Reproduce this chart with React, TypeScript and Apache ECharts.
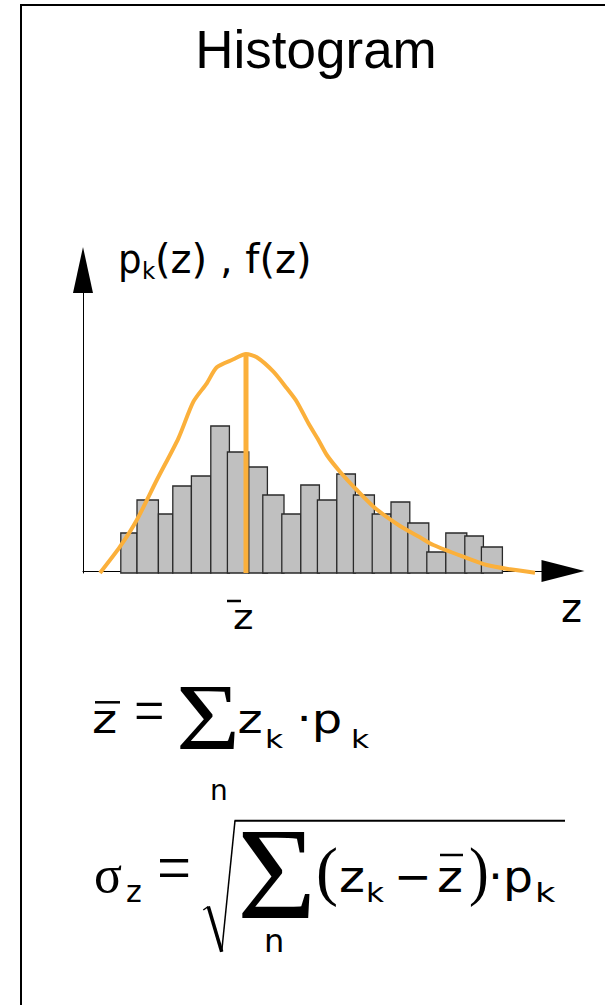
import React, { useEffect, useRef } from 'react';
import * as echarts from 'echarts';

// Histogram bins p_k: left edge, right edge (z units) and height of each bar
const binStart = [1.89, 2.7, 3.77, 4.49, 5.42, 6.39, 7.22, 8.29, 8.99, 9.94, 10.89, 11.72, 12.69, 13.52, 14.46, 15.4, 16.24, 17.19, 18.14, 19.09, 19.92];
const binEnd = [2.7, 3.77, 4.49, 5.42, 6.39, 7.32, 8.29, 9.22, 10.05, 10.89, 11.82, 12.69, 13.62, 14.57, 15.4, 16.34, 17.29, 18.14, 19.19, 20.02, 20.97];
const binHeight = [4.0, 7.3, 5.9, 8.7, 9.7, 14.7, 12.1, 10.6, 7.8, 5.9, 8.8, 7.3, 9.9, 7.8, 5.9, 7.1, 5.0, 2.1, 4.0, 3.7, 2.6];

// Density curve f(z)
const curveZ = [0.85, 1.85, 2.69, 3.69, 4.77, 5.52, 6.19, 6.69, 7.52, 8.15, 8.69, 9.52, 10.19, 10.69, 11.27, 11.77, 12.19, 12.85, 13.69, 14.6, 15.85, 16.85, 17.52, 19.02, 20.19, 21.35, 22.6];
const curveF = [0, 2.63, 5.3, 9.3, 13.47, 17.13, 18.97, 20.57, 21.37, 21.9, 21.57, 20.13, 18.47, 17.13, 14.97, 13.3, 11.8, 10.13, 8.3, 6.5, 4.7, 3.57, 2.8, 1.63, 0.8, 0.37, 0.03];

// Mean value z̄ and the density there
const zMean = 8.15;
const fAtMean = 21.9;

// Axis extents
const zMax = 24;
const fMax = 30.3;

const ORANGE = '#FBB03B';
const SANS = 'DejaVu Sans';
const SERIF = 'Liberation Serif';
const TITLE_FONT = 'Liberation Sans';

// distance from the alphabetic baseline to the "central" baseline, per em
const CENTRAL: Record<string, number> = {
  [SANS]: 0.346,
  [SERIF]: 0.3375,
  [TITLE_FONT]: 0.3465,
};

type TxtOpts = { sx?: number; sy?: number; align?: string };

// Text placed by its left edge (or centre) and its baseline
function txt(text: string, x: number, base: number, size: number, family: string, opts: TxtOpts = {}) {
  return {
    type: 'text',
    x,
    y: base - CENTRAL[family] * size * (opts.sy ?? 1),
    scaleX: opts.sx ?? 1,
    scaleY: opts.sy ?? 1,
    silent: true,
    style: {
      text,
      fontSize: size,
      fontFamily: family,
      fill: '#000',
      align: opts.align ?? 'left',
      verticalAlign: 'middle',
    },
  };
}

function seg(x1: number, y1: number, x2: number, y2: number, w: number) {
  return {
    type: 'line',
    silent: true,
    shape: { x1, y1, x2, y2 },
    style: { stroke: '#000', lineWidth: w, lineCap: 'butt' },
  };
}

export default function App() {
  const ref = useRef<HTMLDivElement>(null);

  useEffect(() => {
    if (!ref.current) return;
    const chart = echarts.init(ref.current, undefined, { renderer: 'svg' });

    const bins = binStart.map((s, i) => [s, binEnd[i], binHeight[i]]);
    const curve = curveZ.map((z, i) => [z, curveF[i]]);

    const renderBin = (_params: any, api: any) => {
      const p0 = api.coord([api.value(0), 0]);
      const p1 = api.coord([api.value(1), api.value(2)]);
      return {
        type: 'rect',
        shape: { x: p0[0], y: p1[1], width: p1[0] - p0[0], height: p0[1] - p1[1] },
        style: { fill: '#C0C0C0', stroke: '#2a2a2a', lineWidth: 1.3 },
      };
    };

    const graphic: any[] = [
      // frame
      {
        type: 'rect',
        silent: true,
        shape: { x: 21, y: 5, width: 800, height: 1200 },
        style: { fill: 'none', stroke: '#000', lineWidth: 2 },
      },
      txt('Histogram', 316, 68, 53, TITLE_FONT, { align: 'center' }),

      // axis labels
      txt('p', 118, 273, 40, SANS, { sx: 0.93 }),
      txt('k', 142, 278.5, 23, SANS),
      txt('(z) , f(z)', 155, 273, 40, SANS),
      seg(227, 601, 241, 601, 2.5),
      txt('z', 233, 629, 34, SANS, { sx: 1.15 }),
      txt('z', 561, 621.7, 40, SANS),

      // mean:  z̄ = Σ z_k · p_k
      seg(95, 702.3, 120, 702.3, 2.5),
      txt('z', 92, 733, 40, SANS, { sx: 1.2 }),
      txt('=', 134, 733, 50, SERIF, { sx: 1.08, sy: 1.3 }),
      txt('Σ', 176, 749.3, 95, SERIF, { sx: 1.16 }),
      txt('n', 210, 800, 28, SANS),
      txt('z', 237.5, 733, 40, SANS, { sx: 1.2 }),
      txt('k', 265, 748.3, 25, SANS, { sx: 1.25 }),
      txt('·p', 296.4, 733, 40, SANS, { sx: 1.2 }),
      txt('k', 351, 748.3, 25, SANS, { sx: 1.25 }),

      // standard deviation:  σ_z = √( Σ (z_k − z̄) · p_k )
      txt('σ', 94, 891.7, 52, SERIF),
      txt('z', 126, 901.7, 30, SANS),
      txt('=', 157, 891.7, 56, SERIF, { sx: 1.08, sy: 1.3 }),
      seg(203.3, 910, 208.3, 906.5, 1.5),
      seg(208.3, 906.5, 221.7, 951.7, 3.5),
      seg(221.7, 951.7, 235, 820.7, 1.5),
      seg(234.5, 820.7, 565, 820.7, 2),
      txt('Σ', 237, 918.3, 131, SERIF, { sx: 1.04 }),
      txt('n', 264, 951.7, 32, SANS),
      txt('(', 316, 893, 66, SERIF),
      txt('z', 339, 891.7, 45, SANS, { sx: 1.1 }),
      txt('k', 366, 901.7, 27, SANS, { sx: 1.15 }),
      txt('−', 394, 891.7, 45, SANS),
      seg(440, 855, 463, 855, 2.5),
      txt('z', 437, 891.7, 45, SANS, { sx: 1.1 }),
      txt(')', 469, 893, 66, SERIF, { sx: 0.9 }),
      txt('·p', 488, 891.7, 45, SANS, { sx: 1.05 }),
      txt('k', 535, 901.7, 27, SANS, { sx: 1.3 }),
    ];

    chart.setOption({
      animation: false,
      backgroundColor: '#fff',
      grid: { left: 83, top: 270, width: 480, height: 303 },
      xAxis: {
        type: 'value',
        min: 0,
        max: zMax,
        offset: -2,
        axisLine: {
          show: true,
          onZero: false,
          lineStyle: { color: '#000', width: 1 },
          symbol: ['none', 'triangle'],
          symbolSize: [22, 43],
        },
        axisTick: { show: false },
        axisLabel: { show: false },
        splitLine: { show: false },
      },
      yAxis: {
        type: 'value',
        min: 0,
        max: fMax,
        axisLine: {
          show: true,
          onZero: false,
          lineStyle: { color: '#000', width: 1 },
          symbol: ['none', 'triangle'],
          symbolSize: [20, 46],
        },
        axisTick: { show: false },
        axisLabel: { show: false },
        splitLine: { show: false },
      },
      series: [
        {
          type: 'custom',
          data: bins,
          encode: { x: [0, 1], y: 2 },
          renderItem: renderBin,
          z: 2,
        },
        {
          type: 'line',
          data: curve,
          smooth: 0.25,
          symbol: 'none',
          lineStyle: { color: ORANGE, width: 4 },
          z: 3,
        },
        {
          type: 'line',
          data: [
            [zMean, 0],
            [zMean, fAtMean],
          ],
          symbol: 'none',
          lineStyle: { color: ORANGE, width: 5 },
          z: 4,
        },
      ],
      graphic,
    });

    return () => chart.dispose();
  }, []);

  return (
    <div
      ref={ref}
      style={{ position: 'fixed', left: 0, top: 0, width: 605, height: 1005, background: '#fff' }}
    />
  );
}
